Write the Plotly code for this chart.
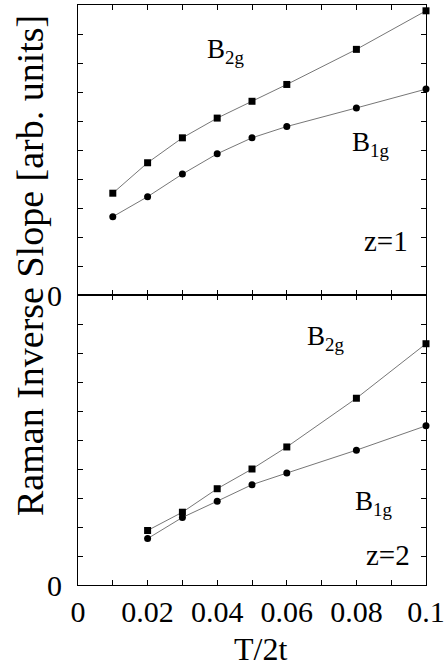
import plotly.graph_objects as go
from plotly.subplots import make_subplots

# ---- data ----
T_z1 = [0.01, 0.02, 0.03, 0.04, 0.05, 0.06, 0.08, 0.1]
B2g_z1 = [0.351, 0.456, 0.542, 0.610, 0.668, 0.726, 0.847, 0.980]
B1g_z1 = [0.270, 0.339, 0.417, 0.487, 0.542, 0.581, 0.645, 0.710]

T_z2 = [0.02, 0.03, 0.04, 0.05, 0.06, 0.08, 0.1]
B2g_z2 = [0.188, 0.251, 0.332, 0.400, 0.476, 0.644, 0.832]
B1g_z2 = [0.160, 0.233, 0.289, 0.346, 0.386, 0.465, 0.549]

x_tickvals = [0, 0.01, 0.02, 0.03, 0.04, 0.05, 0.06, 0.07, 0.08, 0.09, 0.1]
x_ticktext = ["0", "", "0.02", "", "0.04", "", "0.06", "", "0.08", "", "0.1"]
y_tickvals = [0, 0.1, 0.2, 0.3, 0.4, 0.5, 0.6, 0.7, 0.8, 0.9, 1.0]
y_ticktext = ["0", "", "", "", "", "", "", "", "", "", ""]

FONT = "Liberation Serif, Times New Roman, serif"
W, H = 448, 670
ML, MR, MT, MB = 78, 22, 5, 85

fig = make_subplots(rows=2, cols=1, shared_xaxes=True, vertical_spacing=0)

line_style = dict(color="#666666", width=0.9)
for row, T, b2, b1 in [(1, T_z1, B2g_z1, B1g_z1), (2, T_z2, B2g_z2, B1g_z2)]:
    fig.add_trace(go.Scatter(x=T, y=b2, mode="lines+markers", line=line_style,
                             marker=dict(symbol="square", size=7, color="black"),
                             cliponaxis=False, showlegend=False), row=row, col=1)
    fig.add_trace(go.Scatter(x=T, y=b1, mode="lines+markers", line=line_style,
                             marker=dict(symbol="circle", size=7, color="black"),
                             cliponaxis=False, showlegend=False), row=row, col=1)

axis_common = dict(showline=True, linecolor="black", linewidth=1.2, mirror="ticks",
                   ticks="inside", ticklen=5, tickcolor="black", tickwidth=1,
                   showgrid=False, zeroline=False, automargin=False,
                   tickfont=dict(family=FONT, size=30, color="black"))

fig.update_xaxes(range=[0, 0.1], tickmode="array", tickvals=x_tickvals,
                 ticktext=x_ticktext, **axis_common)
fig.update_xaxes(showticklabels=False, row=1, col=1)
fig.update_xaxes(showticklabels=True, row=2, col=1)
fig.update_yaxes(range=[0, 1], tickmode="array", tickvals=y_tickvals,
                 ticktext=y_ticktext, ticklabelstandoff=9, **axis_common)


def px2paper(px, py):
    return (px - ML) / (W - ML - MR), (H - MB - py) / (H - MT - MB)


def ann(text, px, py, size=27, xanchor="left"):
    x, y = px2paper(px, py)
    return dict(text=text, x=x, y=y, xref="paper", yref="paper", showarrow=False,
                xanchor=xanchor, yanchor="middle",
                font=dict(family=FONT, size=size, color="black"))


annotations = [
    ann("B<sub>2g</sub>", 205, 51),
    ann("B<sub>1g</sub>", 350, 144),
    ann("z=1", 362, 241, size=29),
    ann("B<sub>2g</sub>", 305, 338),
    ann("B<sub>1g</sub>", 353, 503),
    ann("z=2", 364, 555, size=29),
]
x, y = px2paper(260, 649)
annotations.append(dict(text="T/2t", x=x, y=y, xref="paper", yref="paper",
                        showarrow=False, xanchor="center", yanchor="middle",
                        font=dict(family=FONT, size=32, color="black")))
x, y = px2paper(30, 266)
annotations.append(dict(text="Raman Inverse Slope [arb. units]", x=x, y=y,
                        xref="paper", yref="paper", showarrow=False, textangle=-90,
                        xanchor="center", yanchor="middle",
                        font=dict(family=FONT, size=38, color="black")))

fig.update_layout(width=W, height=H, margin=dict(l=ML, r=MR, t=MT, b=MB),
                  paper_bgcolor="white", plot_bgcolor="white",
                  annotations=annotations)

fig.write_html("out.html", config={"displayModeBar": False},
               post_script="document.body.style.margin='0px';document.body.style.overflow='hidden';")
